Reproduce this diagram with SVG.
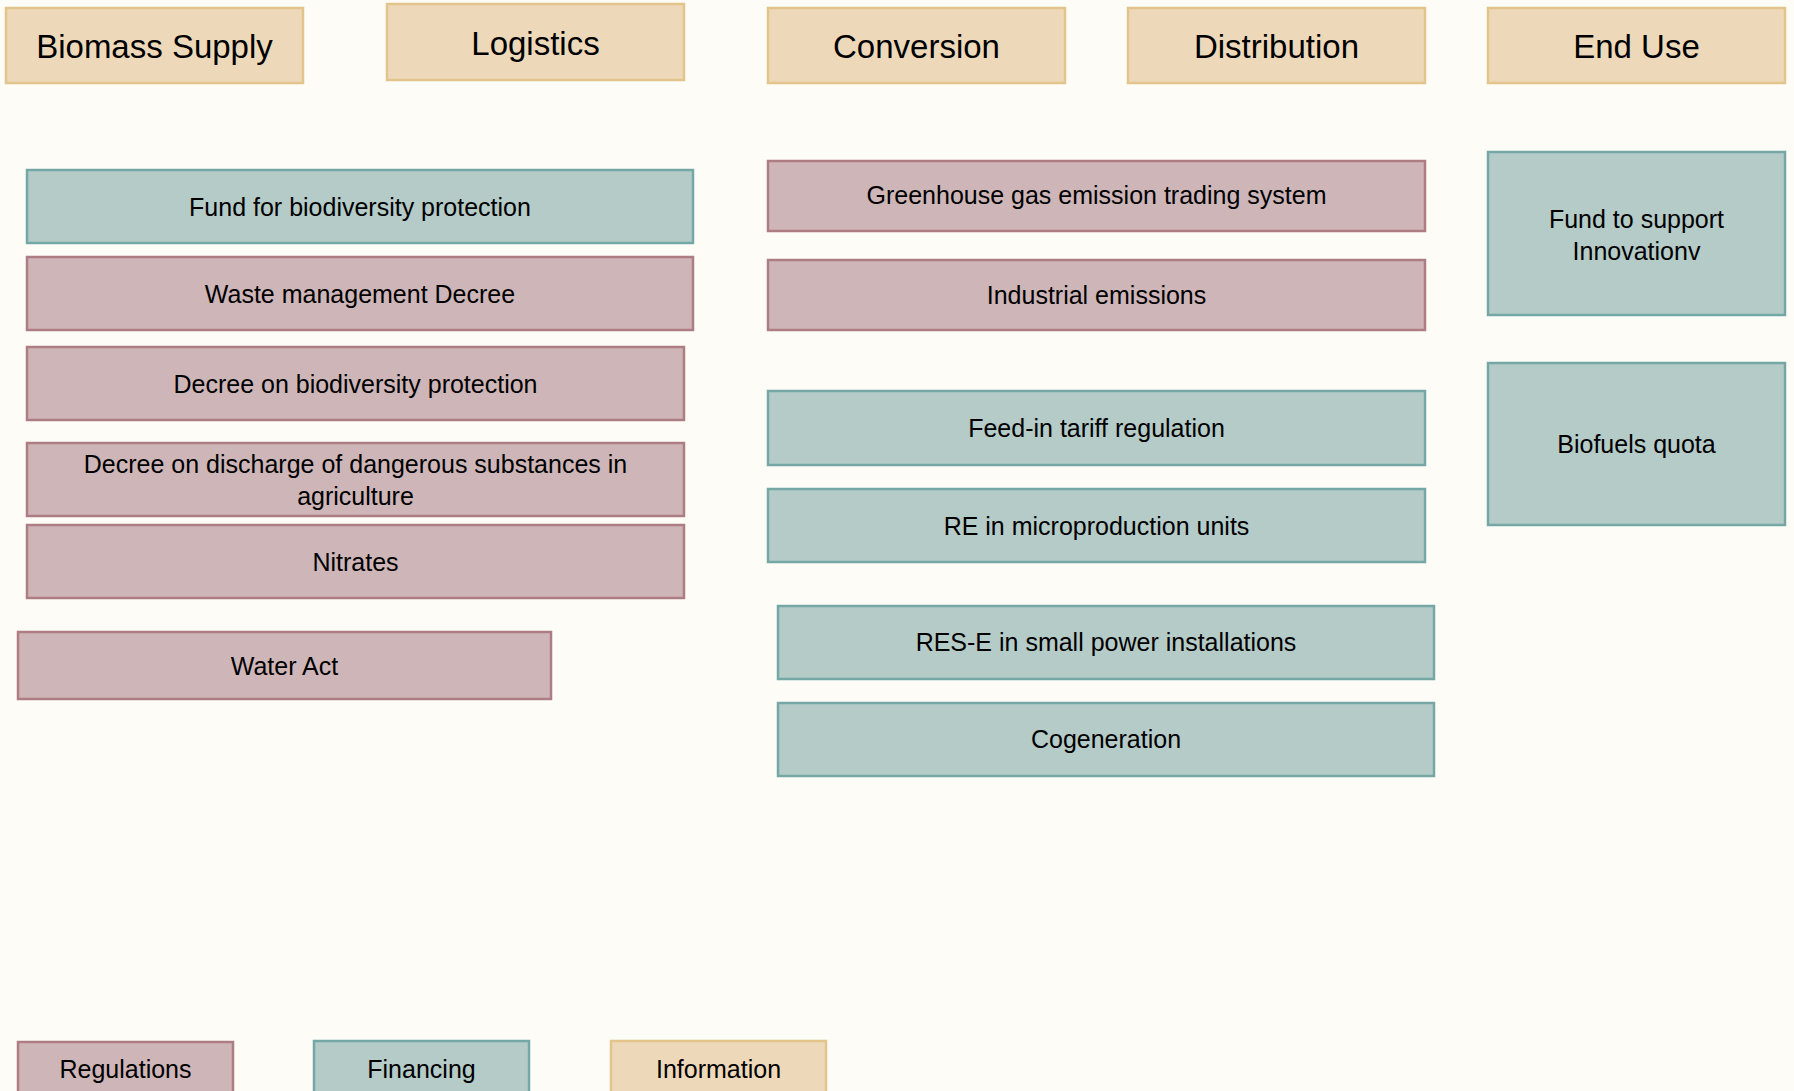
<svg xmlns="http://www.w3.org/2000/svg" width="1794" height="1091" viewBox="0 0 1794 1091">
<style>
.bg{fill:#FDFCF7}
.hdr{fill:#EDD9BA;stroke:#E3C48A;stroke-width:2.5}
.reg{fill:#CEB6B8;stroke:#AE7D83;stroke-width:2.5}
.fin{fill:#B5CBC8;stroke:#75A8A5;stroke-width:2.5}
.inf{fill:#EDD9BA;stroke:#E3C48A;stroke-width:2.5}
text{font-family:"Liberation Sans",Arial,sans-serif;fill:#000;text-anchor:middle}
.h{font-size:33px}
.b{font-size:25px}
</style>
<rect class="bg" x="0" y="0" width="1794" height="1091"/>
<g id="connectors"></g>
<g id="hdr-biomass"><rect class="hdr" x="6" y="8" width="297" height="75"/><text class="h" x="154.5" y="58">Biomass Supply</text></g>
<g id="hdr-logistics"><rect class="hdr" x="387" y="4" width="297" height="76"/><text class="h" x="535.5" y="55">Logistics</text></g>
<g id="hdr-conversion"><rect class="hdr" x="768" y="8" width="297" height="75"/><text class="h" x="916.5" y="58">Conversion</text></g>
<g id="hdr-distribution"><rect class="hdr" x="1128" y="8" width="297" height="75"/><text class="h" x="1276.5" y="58">Distribution</text></g>
<g id="hdr-enduse"><rect class="hdr" x="1488" y="8" width="297" height="75"/><text class="h" x="1636.5" y="58">End Use</text></g>

<g id="n-fund-bio"><rect class="fin" x="27" y="170" width="666" height="73"/><text class="b" x="360" y="216">Fund for biodiversity protection</text></g>
<g id="n-waste"><rect class="reg" x="27" y="257" width="666" height="73"/><text class="b" x="360" y="303">Waste management Decree</text></g>
<g id="n-decree-bio"><rect class="reg" x="27" y="347" width="657" height="73"/><text class="b" x="355.5" y="393">Decree on biodiversity protection</text></g>
<g id="n-discharge"><rect class="reg" x="27" y="443" width="657" height="73"/><text class="b" x="355.5" y="473">Decree on discharge of dangerous substances in</text><text class="b" x="355.5" y="505">agriculture</text></g>
<g id="n-nitrates"><rect class="reg" x="27" y="525" width="657" height="73"/><text class="b" x="355.5" y="571">Nitrates</text></g>
<g id="n-water"><rect class="reg" x="18" y="632" width="533" height="67"/><text class="b" x="284.5" y="675">Water Act</text></g>

<g id="n-ghg"><rect class="reg" x="768" y="161" width="657" height="70"/><text class="b" x="1096.5" y="204">Greenhouse gas emission trading system</text></g>
<g id="n-industrial"><rect class="reg" x="768" y="260" width="657" height="70"/><text class="b" x="1096.5" y="304">Industrial emissions</text></g>
<g id="n-feedin"><rect class="fin" x="768" y="391" width="657" height="74"/><text class="b" x="1096.5" y="437">Feed-in tariff regulation</text></g>
<g id="n-micro"><rect class="fin" x="768" y="489" width="657" height="73"/><text class="b" x="1096.5" y="535">RE in microproduction units</text></g>
<g id="n-rese"><rect class="fin" x="778" y="606" width="656" height="73"/><text class="b" x="1106" y="651">RES-E in small power installations</text></g>
<g id="n-cogen"><rect class="fin" x="778" y="703" width="656" height="73"/><text class="b" x="1106" y="748">Cogeneration</text></g>

<g id="n-fund-innov"><rect class="fin" x="1488" y="152" width="297" height="163"/><text class="b" x="1636.5" y="228">Fund to support</text><text class="b" x="1636.5" y="260">Innovationv</text></g>
<g id="n-biofuels"><rect class="fin" x="1488" y="363" width="297" height="162"/><text class="b" x="1636.5" y="453">Biofuels quota</text></g>

<g id="legend-reg"><rect class="reg" x="18" y="1042" width="215" height="60"/><text class="b" x="125.5" y="1078">Regulations</text></g>
<g id="legend-fin"><rect class="fin" x="314" y="1041" width="215" height="60"/><text class="b" x="421.5" y="1078">Financing</text></g>
<g id="legend-inf"><rect class="inf" x="611" y="1041" width="215" height="60"/><text class="b" x="718.5" y="1078">Information</text></g>
</svg>
